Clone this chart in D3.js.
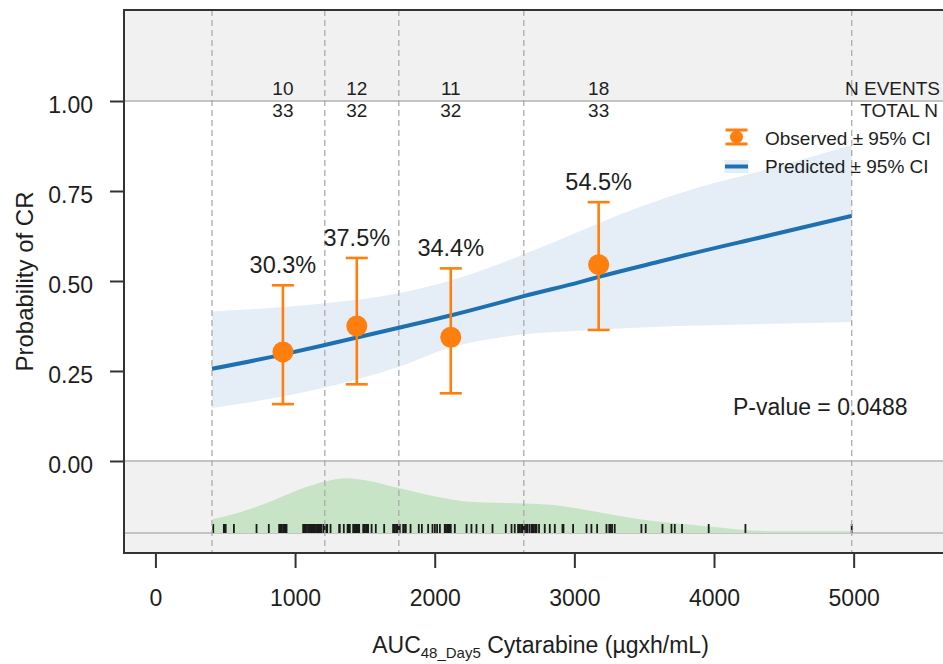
<!DOCTYPE html>
<html>
<head>
<meta charset="utf-8">
<script src="https://cdn.jsdelivr.net/npm/d3@7/dist/d3.min.js"></script>
<style>
  html, body { margin: 0; padding: 0; background: #ffffff; }
  svg { display: block; font-family: "Liberation Sans", Arial, sans-serif; }
</style>
</head>
<body>
<svg id="chart" width="943" height="664"></svg>
<script>
// ---- Data ----
// Exposure quartile edges (AUC48_Day5, µg·h/mL)
const binEdges = [405, 1213, 1743, 2638, 4986];
// Observed response per quartile
const obsAuc = [913, 1442, 2115, 3174];
const events = [10, 12, 11, 18];
const totals = [33, 32, 32, 33];
const obsLower = [0.158, 0.213, 0.188, 0.364];
const obsUpper = [0.488, 0.564, 0.535, 0.719];

// Logistic model prediction with 95% CI
const predAuc = [405, 891, 1213, 1743, 2120, 2466, 2638, 3039, 3182, 3611, 3754, 4399, 4986];
const predFit = [0.256, 0.294, 0.322, 0.370, 0.405, 0.440, 0.458, 0.497, 0.512, 0.554, 0.568, 0.627, 0.681];
const predLower = [0.147, 0.178, 0.204, 0.262, 0.316, 0.343, 0.352, 0.362, 0.365, 0.373, 0.375, 0.381, 0.386];
const predUpper = [0.415, 0.427, 0.438, 0.466, 0.502, 0.548, 0.574, 0.638, 0.662, 0.725, 0.744, 0.812, 0.878];

// Exposure distribution (relative density)
const densAuc = [409, 581, 820, 1058, 1215, 1369, 1512, 1745, 2013, 2251, 2490, 2638, 2848, 3087, 3325, 3563, 3802, 4040, 4304, 4542, 4986];
const densVal = [0.25, 0.36, 0.57, 0.82, 0.94, 1.0, 0.96, 0.82, 0.66, 0.57, 0.55, 0.54, 0.51, 0.42, 0.31, 0.22, 0.16, 0.10, 0.04, 0.03, 0.03];

// Individual patient exposures (rug)
const patientAuc = [
  414, 490, 497, 503, 562, 724, 812, 886, 895, 905, 915, 925, 932, 939,
  1058, 1068, 1075, 1085, 1095, 1100, 1110, 1118, 1125, 1135, 1142, 1150, 1160, 1168, 1176, 1185, 1190, 1205, 1212,
  1225, 1230, 1254, 1316, 1320, 1349, 1376, 1380, 1392, 1416, 1425, 1432, 1440, 1448, 1455, 1459,
  1488, 1495, 1500, 1510, 1518, 1523, 1548, 1578, 1638, 1702, 1708, 1715, 1725, 1730, 1738, 1741,
  1750, 1774, 1780, 1793, 1827, 1886, 1908, 1953, 1984, 2001, 2017, 2037, 2072, 2080, 2090,
  2100, 2108, 2115, 2144, 2228, 2263, 2299, 2347, 2414, 2509, 2550, 2573, 2597, 2610, 2621, 2630, 2636,
  2645, 2655, 2665, 2680, 2695, 2700, 2710, 2720, 2729, 2747, 2788, 2824, 2860, 2915, 2922, 2991,
  3087, 3122, 3163, 3230, 3250, 3260, 3270, 3289, 3480, 3511, 3631, 3695, 3719, 3771, 3962, 4225, 4986
];

const xTicks = [0, 1000, 2000, 3000, 4000, 5000];
const yTicks = [0, 0.25, 0.5, 0.75, 1];
const pValueText = "P-value = 0.0488";

// ---- Layout ----
const panel = { left: 124, right: 957, top: 10, bottom: 553 };
const xLim = [-225, 5740];
const yLim = [-0.2556, 1.2528];
const rugBase = -0.2;
const densTop = -0.048;

const svg = d3.select("#chart");
const x = d3.scaleLinear().domain(xLim).range([panel.left, panel.right]);
const y = d3.scaleLinear().domain(yLim).range([panel.bottom, panel.top]);
const yDens = d3.scaleLinear().domain([0, 1]).range([y(rugBase), y(densTop)]);

const orange = "#ff7f0e";
const blue = "#1f70b0";
const ribbon = "#e5eef7";
const textColor = "#1e1e1e";
const smooth = d3.curveMonotoneX;

// panel background: grey outside the probability range, white inside
svg.append("rect")
  .attr("x", panel.left).attr("y", panel.top)
  .attr("width", panel.right - panel.left).attr("height", panel.bottom - panel.top)
  .attr("fill", "#f1f1f1");
svg.append("rect")
  .attr("x", panel.left).attr("y", y(1))
  .attr("width", panel.right - panel.left).attr("height", y(0) - y(1))
  .attr("fill", "#ffffff");

// reference lines at 0, 1 and the rug baseline
svg.selectAll("line.ref").data([0, 1, rugBase]).join("line")
  .attr("class", "ref")
  .attr("x1", panel.left).attr("x2", panel.right)
  .attr("y1", d => y(d)).attr("y2", d => y(d))
  .attr("stroke", "#c4c4c4").attr("stroke-width", 2);

// prediction ribbon
const idx = d3.range(predAuc.length);
svg.append("path")
  .datum(idx)
  .attr("fill", ribbon)
  .attr("d", d3.area().curve(smooth)
    .x(i => x(predAuc[i]))
    .y0(i => y(predLower[i]))
    .y1(i => y(predUpper[i])));

// exposure density
svg.append("path")
  .datum(d3.range(densAuc.length))
  .attr("fill", "#c8e4c7")
  .attr("d", d3.area().curve(smooth)
    .x(i => x(densAuc[i]))
    .y0(y(rugBase))
    .y1(i => yDens(densVal[i])));

// rug of individual exposures
svg.selectAll("line.rug").data(patientAuc).join("line")
  .attr("class", "rug")
  .attr("x1", d => x(d)).attr("x2", d => x(d))
  .attr("y1", y(rugBase) - 9).attr("y2", y(rugBase))
  .attr("stroke", "#1a1a1a").attr("stroke-width", 1.8);

// quartile boundaries
svg.selectAll("line.edge").data(binEdges).join("line")
  .attr("class", "edge")
  .attr("x1", d => x(d)).attr("x2", d => x(d))
  .attr("y1", panel.top).attr("y2", panel.bottom)
  .attr("stroke", "#ababab").attr("stroke-width", 1.3)
  .attr("stroke-dasharray", "6,4");

// predicted line
svg.append("path")
  .datum(idx)
  .attr("fill", "none")
  .attr("stroke", blue).attr("stroke-width", 4)
  .attr("d", d3.line().curve(smooth).x(i => x(predAuc[i])).y(i => y(predFit[i])));

// observed proportions with 95% CI
const obs = d3.range(obsAuc.length).map(i => ({
  x: obsAuc[i], p: events[i] / totals[i], lo: obsLower[i], hi: obsUpper[i], n: totals[i], e: events[i]
}));
const capW = 11;
const gObs = svg.append("g");
gObs.selectAll("line.ci").data(obs).join("line")
  .attr("x1", d => x(d.x)).attr("x2", d => x(d.x))
  .attr("y1", d => y(d.lo)).attr("y2", d => y(d.hi))
  .attr("stroke", orange).attr("stroke-width", 2.6);
gObs.selectAll("line.capHi").data(obs).join("line")
  .attr("x1", d => x(d.x) - capW).attr("x2", d => x(d.x) + capW)
  .attr("y1", d => y(d.hi)).attr("y2", d => y(d.hi))
  .attr("stroke", orange).attr("stroke-width", 2.6);
gObs.selectAll("line.capLo").data(obs).join("line")
  .attr("x1", d => x(d.x) - capW).attr("x2", d => x(d.x) + capW)
  .attr("y1", d => y(d.lo)).attr("y2", d => y(d.lo))
  .attr("stroke", orange).attr("stroke-width", 2.6);
gObs.selectAll("circle").data(obs).join("circle")
  .attr("cx", d => x(d.x)).attr("cy", d => y(d.p)).attr("r", 10.5)
  .attr("fill", orange);
gObs.selectAll("text.pct").data(obs).join("text")
  .attr("x", d => x(d.x)).attr("y", d => y(d.hi) - 12)
  .attr("text-anchor", "middle")
  .attr("font-size", 23.5).attr("fill", textColor)
  .text(d => d3.format(".1%")(d.p));

// event / total counts above the panel
svg.selectAll("text.ev").data(obs).join("text")
  .attr("x", d => x(d.x)).attr("y", 95)
  .attr("text-anchor", "middle").attr("font-size", 19).attr("fill", textColor)
  .text(d => d.e);
svg.selectAll("text.tot").data(obs).join("text")
  .attr("x", d => x(d.x)).attr("y", 117)
  .attr("text-anchor", "middle").attr("font-size", 19).attr("fill", textColor)
  .text(d => d.n);
svg.append("text").attr("x", 940).attr("y", 95)
  .attr("text-anchor", "end").attr("font-size", 19).attr("fill", textColor).text("N EVENTS");
svg.append("text").attr("x", 938).attr("y", 117)
  .attr("text-anchor", "end").attr("font-size", 19).attr("fill", textColor).text("TOTAL N");

// legend
const lg = svg.append("g").attr("transform", "translate(736.5,0)");
lg.append("line").attr("x1", 0).attr("x2", 0).attr("y1", 130).attr("y2", 144)
  .attr("stroke", orange).attr("stroke-width", 2.5);
lg.append("line").attr("x1", -11).attr("x2", 11).attr("y1", 130).attr("y2", 130)
  .attr("stroke", orange).attr("stroke-width", 3);
lg.append("line").attr("x1", -11).attr("x2", 11).attr("y1", 144).attr("y2", 144)
  .attr("stroke", orange).attr("stroke-width", 3);
lg.append("circle").attr("cx", 0).attr("cy", 137).attr("r", 6.5).attr("fill", orange);
lg.append("rect").attr("x", -12).attr("y", 160).attr("width", 24).attr("height", 13).attr("fill", ribbon);
lg.append("line").attr("x1", -11.5).attr("x2", 11.5).attr("y1", 166.5).attr("y2", 166.5)
  .attr("stroke", blue).attr("stroke-width", 4);
lg.append("text").attr("x", 28.5).attr("y", 145).attr("font-size", 19).attr("fill", textColor)
  .text("Observed ± 95% CI");
lg.append("text").attr("x", 28.5).attr("y", 173).attr("font-size", 19).attr("fill", textColor)
  .text("Predicted ± 95% CI");

// p-value
svg.append("text").attr("x", 733).attr("y", 415)
  .attr("font-size", 23).attr("fill", textColor).text(pValueText);

// panel frame (left, top, bottom; right side lies beyond the view)
svg.append("path")
  .attr("d", `M${panel.right},${panel.top}H${panel.left}V${panel.bottom}H${panel.right}`)
  .attr("fill", "none").attr("stroke", "#333").attr("stroke-width", 2);

// axes
const xAxis = svg.append("g")
  .attr("transform", `translate(0,${panel.bottom + 1})`)
  .call(d3.axisBottom(x).tickValues(xTicks).tickSize(14).tickPadding(22).tickFormat(d3.format("d")));
const yAxis = svg.append("g")
  .attr("transform", `translate(${panel.left},0)`)
  .call(d3.axisLeft(y).tickValues(yTicks).tickSize(14).tickPadding(17).tickFormat(d3.format(".2f")));
[xAxis, yAxis].forEach(a => {
  a.select(".domain").remove();
  a.selectAll(".tick line").attr("stroke", "#333").attr("stroke-width", 2);
  a.selectAll(".tick text").attr("font-size", 23).attr("fill", textColor)
    .attr("font-family", "Liberation Sans, Arial, sans-serif");
});
yAxis.selectAll(".tick text").attr("dy", "0.52em");

// axis titles
const xt = svg.append("text")
  .attr("x", (panel.left + panel.right) / 2).attr("y", 653)
  .attr("text-anchor", "middle").attr("font-size", 23).attr("fill", textColor);
xt.append("tspan").text("AUC");
xt.append("tspan").attr("font-size", 15).attr("dy", 5).text("48_Day5");
xt.append("tspan").attr("dy", -5).text(" Cytarabine (µgxh/mL)");

svg.append("text")
  .attr("transform", `translate(33,${(panel.top + panel.bottom) / 2}) rotate(-90)`)
  .attr("text-anchor", "middle").attr("font-size", 24).attr("fill", textColor)
  .text("Probability of CR");
</script>
</body>
</html>
